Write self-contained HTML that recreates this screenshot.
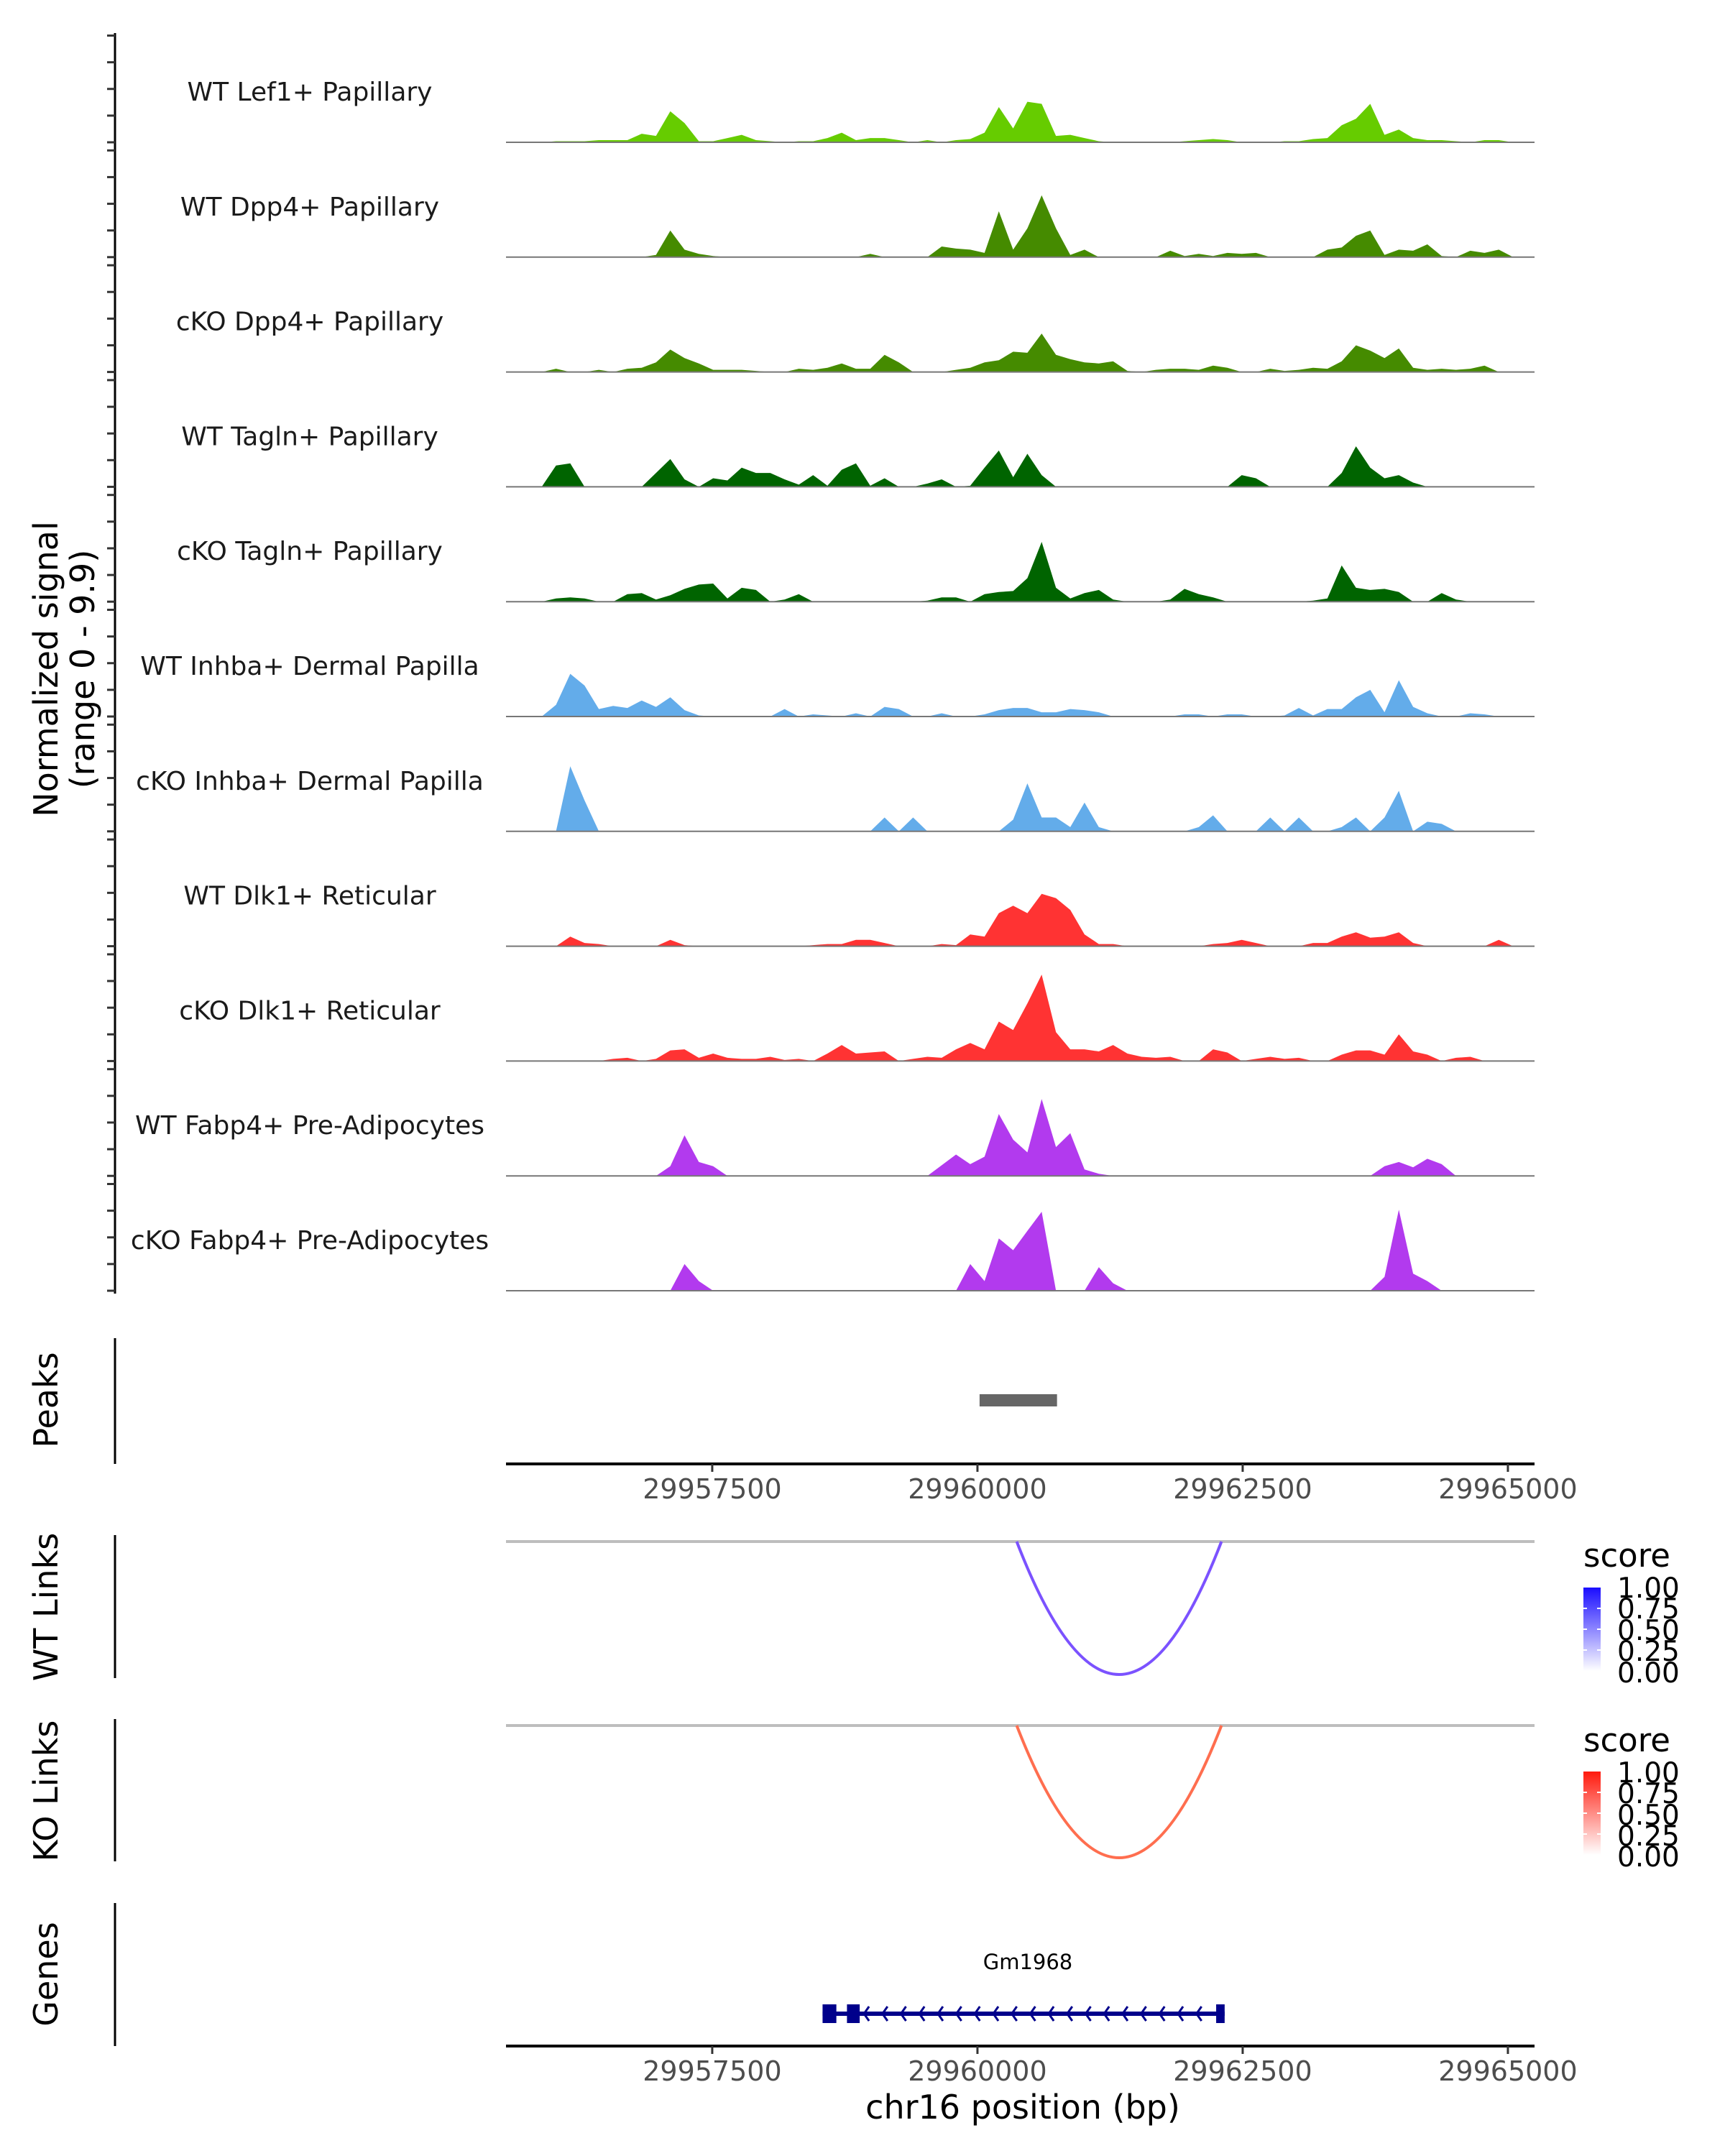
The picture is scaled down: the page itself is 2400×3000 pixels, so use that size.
<!DOCTYPE html>
<html><head><meta charset="utf-8">
<style>
html,body{margin:0;padding:0;background:#fff;}
svg{display:block;font-family:"DejaVu Sans","Liberation Sans",sans-serif;}
</style></head>
<body>
<svg id="chart" xmlns="http://www.w3.org/2000/svg" width="2400" height="3000" viewBox="0 0 2400 3000">
<defs>
<linearGradient id="gBlue" x1="0" y1="1" x2="0" y2="0"><stop offset="0" stop-color="#ffffff"/><stop offset="1" stop-color="#1a0dff"/></linearGradient>
<linearGradient id="gRed" x1="0" y1="1" x2="0" y2="0"><stop offset="0" stop-color="#ffffff"/><stop offset="1" stop-color="#ff1a0d"/></linearGradient>
</defs>
<g id="tracks"></g>
<line x1="160" y1="46" x2="160" y2="1800" stroke="#000" stroke-width="3"/>
<g id="yticks"></g>
<text transform="translate(80,931) rotate(-90)" text-anchor="middle" font-size="46" fill="#000">Normalized signal</text>
<text transform="translate(131,931) rotate(-90)" text-anchor="middle" font-size="46" fill="#000">(range 0 - 9.9)</text>

<line x1="160" y1="1862" x2="160" y2="2037" stroke="#000" stroke-width="3"/>
<text transform="translate(80,1948) rotate(-90)" text-anchor="middle" font-size="46">Peaks</text>
<g id="peaks"></g>
<g id="xaxis1"></g>

<line x1="160" y1="2136" x2="160" y2="2335" stroke="#000" stroke-width="3"/>
<text transform="translate(80,2236) rotate(-90)" text-anchor="middle" font-size="46">WT Links</text>
<line x1="704" y1="2145" x2="2135" y2="2145" stroke="#bebebe" stroke-width="4"/>
<g id="wtlinks"></g>

<line x1="160" y1="2392" x2="160" y2="2590" stroke="#000" stroke-width="3"/>
<text transform="translate(80,2492) rotate(-90)" text-anchor="middle" font-size="46">KO Links</text>
<line x1="704" y1="2401" x2="2135" y2="2401" stroke="#bebebe" stroke-width="4"/>
<g id="kolinks"></g>

<g>
<text x="2203" y="2180" font-size="45">score</text>
<rect x="2203" y="2209" width="24" height="116" fill="url(#gBlue)"/>
<g font-size="39">
<text x="2250" y="2223">1.00</text><text x="2250" y="2252">0.75</text><text x="2250" y="2282">0.50</text><text x="2250" y="2311">0.25</text><text x="2250" y="2341">0.00</text>
</g>
<g stroke="#fff" stroke-width="2"><line x1="2203" y1="2238" x2="2208" y2="2238"/><line x1="2222" y1="2238" x2="2227" y2="2238"/><line x1="2203" y1="2267" x2="2208" y2="2267"/><line x1="2222" y1="2267" x2="2227" y2="2267"/><line x1="2203" y1="2296" x2="2208" y2="2296"/><line x1="2222" y1="2296" x2="2227" y2="2296"/></g>
</g>
<g>
<text x="2203" y="2437" font-size="45">score</text>
<rect x="2203" y="2465" width="24" height="116" fill="url(#gRed)"/>
<g font-size="39">
<text x="2250" y="2480">1.00</text><text x="2250" y="2509">0.75</text><text x="2250" y="2539">0.50</text><text x="2250" y="2568">0.25</text><text x="2250" y="2597">0.00</text>
</g>
<g stroke="#fff" stroke-width="2"><line x1="2203" y1="2494" x2="2208" y2="2494"/><line x1="2222" y1="2494" x2="2227" y2="2494"/><line x1="2203" y1="2523" x2="2208" y2="2523"/><line x1="2222" y1="2523" x2="2227" y2="2523"/><line x1="2203" y1="2552" x2="2208" y2="2552"/><line x1="2222" y1="2552" x2="2227" y2="2552"/></g>
</g>

<line x1="160" y1="2648" x2="160" y2="2847" stroke="#000" stroke-width="3"/>
<text transform="translate(80,2747) rotate(-90)" text-anchor="middle" font-size="46">Genes</text>
<g id="genes"></g>
<g id="xaxis2"></g>
<text x="1423" y="2948" text-anchor="middle" font-size="46">chr16 position (bp)</text>
</svg>
<script>
const regionStart = 29955556, regionEnd = 29965251;
const xTicks = [29957500, 29960000, 29962500, 29965000];
const trackNames = ["WT Lef1+ Papillary","WT Dpp4+ Papillary","cKO Dpp4+ Papillary","WT Tagln+ Papillary","cKO Tagln+ Papillary","WT Inhba+ Dermal Papilla","cKO Inhba+ Dermal Papilla","WT Dlk1+ Reticular","cKO Dlk1+ Reticular","WT Fabp4+ Pre-Adipocytes","cKO Fabp4+ Pre-Adipocytes"];
const trackColors = ["#66cc00","#458b00","#458b00","#006400","#006400","#63acea","#63acea","#ff3333","#ff3333","#b23aee","#b23aee"];
const yMax = 9.9;
const yTickValues = [0, 2.5, 5, 7.5, 10];
const sigWTLef1 = [0,0,0,.1,.1,.1,.2,.2,.2,.8,.6,2.9,1.8,.1,.1,.4,.7,.2,.1,0,.1,.1,.4,.9,.2,.4,.4,.2,0,.2,0,.2,.3,.9,3.3,1.3,3.8,3.6,.6,.7,.4,.1,0,0,0,0,0,.1,.2,.3,.2,0,0,0,.1,.1,.3,.4,1.6,2.2,3.6,.7,1.2,.4,.2,.2,.1,0,.2,.2,0,0];
const sigWTDpp4 = [0,0,0,0,0,0,0,0,0,0,.2,2.5,.7,.3,.1,0,0,0,0,0,0,0,0,0,0,.3,0,0,0,0,1.0,.8,.7,.4,4.3,.7,2.7,5.8,2.7,.2,.7,0,0,0,0,0,.6,.1,.3,.1,.4,.3,.4,0,0,0,0,.7,.9,2.0,2.5,.2,.7,.6,1.2,.1,0,.6,.4,.7,0,0];
const sigKODpp4 = [0,0,0,.3,0,0,.2,0,.3,.4,.9,2.1,1.3,.8,.2,.2,.2,.1,0,0,.3,.2,.4,.8,.3,.3,1.6,.9,0,0,0,.2,.4,.9,1.1,1.9,1.8,3.6,1.6,1.2,.9,.8,1.0,.1,0,.2,.3,.3,.2,.6,.4,0,0,.3,.1,.2,.4,.3,1.0,2.5,2.0,1.3,2.2,.4,.2,.3,.2,.3,.6,0,0,0];
const sigWTTagln = [0,0,0,2.0,2.2,0,0,0,0,0,1.3,2.6,.7,0,.8,.6,1.8,1.3,1.3,.7,.2,1.1,.1,1.6,2.2,.1,.8,0,0,.3,.7,0,.1,1.8,3.4,.9,3.1,1.1,0,0,0,0,0,0,0,0,0,0,0,0,0,1.1,.8,0,0,0,0,0,1.3,3.8,1.8,.8,1.1,.4,0,0,0,0,0,0,0,0];
const sigKOTagln = [0,0,0,.3,.4,.3,0,0,.7,.8,.2,.6,1.2,1.6,1.7,.3,1.3,1.1,0,.2,.7,0,0,0,0,0,0,0,0,.1,.4,.4,0,.7,.9,1.0,2.2,5.6,1.3,.3,.8,1.1,.2,0,0,0,.2,1.2,.7,.4,0,0,0,0,0,0,.1,.3,3.4,1.3,1.1,1.2,.9,0,0,.8,.2,0,0,0,0,0];
const sigWTInhba = [0,0,0,1.1,4.0,2.9,.7,1.0,.8,1.5,.9,1.8,.6,.1,0,0,0,0,0,.7,0,.2,.1,0,.3,0,.9,.7,0,0,.3,0,0,.2,.6,.8,.8,.4,.4,.7,.6,.4,0,0,0,0,0,.2,.2,0,.2,.2,0,0,.1,.8,.1,.7,.7,1.8,2.5,.4,3.4,.9,.3,0,0,.3,.2,0,0,0];
const sigKOInhba = [0,0,0,0,6.1,2.9,0,0,0,0,0,0,0,0,0,0,0,0,0,0,0,0,0,0,0,0,1.3,0,1.3,0,0,0,0,0,0,1.1,4.5,1.3,1.3,.4,2.7,.4,0,0,0,0,0,0,.4,1.5,0,0,0,1.3,0,1.3,0,0,.4,1.3,0,1.3,3.8,0,.9,.7,0,0,0,0,0,0];
const sigWTDlk1 = [0,0,0,0,.9,.3,.2,0,0,0,0,.6,.1,0,0,0,0,0,0,0,0,.1,.2,.2,.6,.6,.3,0,0,0,.2,.1,1.1,.9,3.1,3.8,3.1,4.9,4.5,3.4,1.1,.2,.2,0,0,0,0,0,0,.2,.3,.6,.3,0,0,0,.3,.3,.9,1.3,.8,.9,1.3,.3,0,0,0,0,0,.6,0,0];
const sigKODlk1 = [0,0,0,0,0,0,0,.2,.3,0,.2,1.0,1.1,.3,.7,.3,.2,.2,.4,.1,.2,0,.7,1.5,.7,.8,.9,0,.2,.4,.3,1.1,1.7,1.1,3.7,2.9,5.4,8.1,2.7,1.1,1.1,.9,1.5,.7,.4,.3,.4,0,0,1.1,.8,0,.2,.4,.2,.3,0,0,.6,1.0,1.0,.6,2.5,.9,.6,0,.3,.4,0,0,0,0];
const sigWTFabp4 = [0,0,0,0,0,0,0,0,0,0,0,.9,3.8,1.3,.9,0,0,0,0,0,0,0,0,0,0,0,0,0,0,0,1.0,2.0,1.1,1.8,5.8,3.4,2.2,7.2,2.7,4.0,.6,.2,0,0,0,0,0,0,0,0,0,0,0,0,0,0,0,0,0,0,0,.9,1.3,.8,1.6,1.1,0,0,0,0,0,0];
const sigKOFabp4 = [0,0,0,0,0,0,0,0,0,0,0,0,2.5,.9,0,0,0,0,0,0,0,0,0,0,0,0,0,0,0,0,0,0,2.5,.9,4.9,3.8,5.6,7.4,0,0,0,2.2,.7,0,0,0,0,0,0,0,0,0,0,0,0,0,0,0,0,0,0,1.3,7.6,1.6,.9,0,0,0,0,0,0,0];
const peakStart = [29960020], peakEnd = [29960750];
const wtLinkStart = [29960370], wtLinkEnd = [29962300], wtLinkScore = [0.55];
const koLinkStart = [29960370], koLinkEnd = [29962300], koLinkScore = [0.55];
const geneStart = 29958540, geneEnd = 29962330;
const exonStart = [29958540, 29958770, 29962250], exonEnd = [29958670, 29958890, 29962330];

const NS = "http://www.w3.org/2000/svg";
const X0 = 704, X1 = 2135;
function xs(bp){ return X0 + (bp - regionStart) / (regionEnd - regionStart) * (X1 - X0); }
const trackH = 147, base0 = 198, trackStep = 159.8;
function ys(i, v){ return base0 + i * trackStep - v / yMax * trackH; }
function mk(tag, attrs, parent){ const e = document.createElementNS(NS, tag); for (const k in attrs) e.setAttribute(k, attrs[k]); parent.appendChild(e); return e; }

const signals = [sigWTLef1, sigWTDpp4, sigKODpp4, sigWTTagln, sigKOTagln, sigWTInhba, sigKOInhba, sigWTDlk1, sigKODlk1, sigWTFabp4, sigKOFabp4];
const tracksG = document.getElementById('tracks');
const ytG = document.getElementById('yticks');
signals.forEach((arr, i) => {
  const g = mk('g', {}, tracksG);
  
  
  const bw = (regionEnd - regionStart) / arr.length;
  const b = ys(i, 0);
  let d = 'M' + xs(regionStart) + ',' + b;
  arr.forEach((v, k) => {
    const xc = xs(regionStart + (k + 0.5) * bw), y = ys(i, v);
    d += ' L' + xc.toFixed(1) + ',' + y.toFixed(1);
  });
  d += ' L' + xs(regionEnd) + ',' + b + ' Z';
  const p = mk('path', {d: d, fill: trackColors[i]}, g);
  
  
  const bl = mk('line', {x1: X0, x2: X1, y1: b, y2: b, stroke: '#777', 'stroke-width': 2}, g);
  
  
  const t = mk('text', {x: 431, y: b - 58, 'text-anchor': 'middle', 'font-size': 36, fill: '#1a1a1a'}, g);
  
  
  t.textContent = trackNames[i];
  yTickValues.forEach(tv => {
    const yy = ys(i, tv);
    const tk = mk('line', {x1: 149, x2: 160, y1: yy, y2: yy, stroke: '#333', 'stroke-width': 3}, ytG);
    
    
  });
});

const pk = document.getElementById('peaks');
peakStart.forEach((s, i) => {
  const r = mk('rect', {x: xs(s), y: 1940, width: xs(peakEnd[i]) - xs(s), height: 17, fill: '#666'}, pk);
  
  
});

function drawAxis(id, y){
  const g = document.getElementById(id);
  const al = mk('line', {x1: X0, x2: X1, y1: y, y2: y, stroke: '#000', 'stroke-width': 4}, g);
  
  
  xTicks.forEach(v => {
    const x = xs(v);
    const tk = mk('line', {x1: x, x2: x, y1: y, y2: y + 11, stroke: '#333', 'stroke-width': 3}, g);
    
    
    const tl = mk('text', {x: x, y: y + 48, 'text-anchor': 'middle', 'font-size': 38, fill: '#4d4d4d'}, g);
    
    
    tl.textContent = String(v);
  });
}
drawAxis('xaxis1', 2037);
drawAxis('xaxis2', 2847);

function drawLinks(id, starts, ends, scores, top, bottom, color){
  const g = document.getElementById(id);
  starts.forEach((s, i) => {
    const xa = xs(s), xb = xs(ends[i]);
    const cy = 2 * bottom - top;
    const p = mk('path', {d: 'M' + xa + ',' + top + ' Q' + ((xa + xb) / 2) + ',' + cy + ' ' + xb + ',' + top, fill: 'none', stroke: color, 'stroke-width': 4}, g);
    
    
  });
}
drawLinks('wtlinks', wtLinkStart, wtLinkEnd, wtLinkScore, 2145, 2330, '#7b52ff');
drawLinks('kolinks', koLinkStart, koLinkEnd, koLinkScore, 2401, 2585, '#ff6e4f');

const gg = document.getElementById('genes');
const gy = 2802;
const gl = mk('rect', {x: xs(geneStart), y: gy - 3, width: xs(geneEnd) - xs(geneStart), height: 6, fill: '#00008b'}, gg);


exonStart.forEach((s, i) => {
  const r = mk('rect', {x: xs(s), y: gy - 13, width: xs(exonEnd[i]) - xs(s), height: 26, fill: '#00008b'}, gg);
  
  
});
for (let x = xs(exonEnd[1]) + 6; x < xs(exonStart[2]) - 10; x += 25.7) {
  const c = mk('path', {d: 'M' + (x + 7) + ',' + (gy - 10) + ' L' + x + ',' + gy + ' L' + (x + 7) + ',' + (gy + 10), fill: 'none', stroke: '#00008b', 'stroke-width': 3}, gg);
  
  
}
const gt = mk('text', {x: 1430, y: 2740, 'text-anchor': 'middle', 'font-size': 29, fill: '#000'}, gg);


gt.textContent = 'Gm1968';
</script>
</body></html>
